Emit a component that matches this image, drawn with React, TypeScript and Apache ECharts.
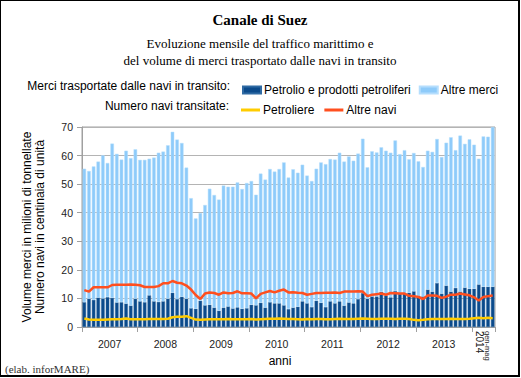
import React, { useEffect, useRef } from "react";
import * as echarts from "echarts";

const years = ["2007", "2008", "2009", "2010", "2011", "2012", "2013", "2014"];
const months = years.flatMap((y) =>
  (y === "2014" ? [1, 2, 3, 4, 5] : [1, 2, 3, 4, 5, 6, 7, 8, 9, 10, 11, 12]).map(
    (m) => `${y}-${String(m).padStart(2, "0")}`
  )
);

// Total goods (million t) = Petrolio + Altre merci
const totaleMerci = [
  55.4, 54.6, 56.2, 57.9, 60.1, 57.4, 64.2, 60.6, 58.6, 61.7, 59.1, 62.2,
  58.5, 58.5, 58.9, 59.3, 61.0, 61.4, 63.6, 68.3, 65.6, 64.4, 55.8, 45.1,
  38.0, 39.9, 42.7, 48.4, 46.2, 44.6, 49.5, 49.1, 49.1, 50.6, 48.3, 50.4,
  51.1, 46.3, 53.7, 51.6, 55.3, 54.4, 55.3, 57.6, 52.3, 55.2, 54.0, 56.8,
  53.0, 51.1, 55.4, 57.6, 57.0, 58.8, 58.6, 61.0, 57.9, 59.7, 58.2, 60.7,
  65.9, 55.9, 61.5, 61.1, 62.9, 61.7, 61.0, 65.3, 60.5, 61.9, 58.7, 60.9,
  58.0, 56.0, 61.7, 61.3, 65.8, 59.5, 64.5, 66.4, 61.9, 67.0, 64.1, 65.7,
  63.8, 58.9, 66.7, 66.6, 70.0,
];

const petrolio = [
  8.7, 9.9, 9.5, 10.3, 10.0, 10.5, 10.2, 8.6, 8.7, 8.2, 7.5, 9.9,
  9.0, 8.7, 11.1, 9.0, 8.8, 9.0, 9.9, 12.0, 9.8, 10.6, 9.9, 6.6,
  6.4, 9.2, 7.6, 7.8, 6.8, 5.7, 6.8, 7.2, 6.5, 6.9, 6.4, 6.6,
  7.8, 7.6, 8.5, 6.8, 8.7, 8.3, 8.3, 7.6, 6.3, 6.8, 7.1, 9.0,
  8.3, 7.0, 9.2, 8.5, 7.0, 9.0, 8.3, 9.0, 7.5, 8.6, 8.3, 9.8,
  11.9, 9.9, 10.7, 10.7, 12.3, 11.0, 10.4, 12.6, 11.6, 11.8, 12.0, 12.5,
  11.0, 10.7, 13.1, 12.4, 15.4, 11.7, 14.5, 12.4, 13.7, 12.4, 13.8, 13.4,
  13.4, 14.9, 14.1, 14.1, 14.1,
];

const petroliere = [
  3.0, 2.6, 2.5, 2.5, 2.5, 2.6, 2.7, 2.7, 2.8, 3.0, 2.7, 2.7,
  2.7, 2.7, 2.8, 2.8, 2.8, 2.8, 2.9, 3.4, 3.6, 3.6, 3.8, 3.2,
  2.6, 2.5, 2.6, 2.7, 2.7, 2.7, 2.7, 2.8, 2.7, 2.7, 2.7, 2.7,
  2.8, 2.6, 2.7, 2.8, 2.9, 2.9, 3.0, 2.9, 2.8, 2.8, 2.7, 2.6,
  2.8, 2.7, 2.8, 2.8, 2.7, 2.7, 2.8, 2.9, 2.8, 2.8, 2.8, 2.9,
  3.0, 2.9, 2.8, 2.8, 2.9, 2.9, 2.9, 2.8, 2.9, 2.9, 2.8, 2.5,
  2.4, 2.5, 2.7, 2.8, 2.8, 2.8, 2.8, 2.9, 2.8, 2.8, 2.8, 2.9,
  3.1, 3.2, 3.1, 3.2, 3.1,
];

const altreNavi = [
  12.9, 12.4, 13.9, 13.9, 13.9, 13.9, 14.7, 14.8, 14.8, 14.8, 14.9, 14.8,
  14.6, 14.0, 14.0, 14.0, 14.3, 15.3, 15.3, 16.1, 15.5, 15.3, 14.5, 13.1,
  11.2, 9.8, 11.7, 12.1, 11.9, 11.3, 12.1, 11.8, 11.9, 12.5, 11.8, 11.8,
  11.7, 10.0, 11.6, 12.1, 12.6, 12.1, 12.7, 13.1, 12.1, 12.2, 12.0, 11.9,
  11.3, 11.6, 11.9, 11.9, 12.0, 12.0, 12.1, 11.9, 12.4, 12.4, 12.4, 12.5,
  12.4, 10.8, 11.3, 11.5, 11.7, 11.3, 11.9, 11.8, 11.7, 11.7, 10.9, 10.8,
  10.5, 9.8, 11.0, 11.0, 10.9, 10.2, 10.6, 11.3, 11.3, 11.7, 11.4, 11.1,
  10.4, 9.3, 10.5, 10.8, 11.0,
];

const altreMerci = totaleMerci.map((t, i) => Math.round((t - petrolio[i]) * 10) / 10);

const SANS = '"Liberation Sans", Arial, sans-serif';
const SERIF = '"Liberation Serif", "Times New Roman", serif';

export default function App() {
  const ref = useRef<HTMLDivElement>(null);

  useEffect(() => {
    if (!ref.current) return;
    const chart = echarts.init(ref.current, undefined, { renderer: "svg" });
    const axisColor = "#a0a0a0";
    chart.setOption({
      animation: false,
      backgroundColor: "#ffffff",
      textStyle: { fontFamily: SANS },
      grid: {
        left: 82,
        right: 26,
        top: 127,
        bottom: 51,
        show: true,
        borderColor: axisColor,
        borderWidth: 1,
      },
      legend: [
        {
          data: ["Petrolio e prodotti petroliferi", "Altre merci"],
          left: 237,
          top: 79,
          icon: "rect",
          itemWidth: 18,
          itemHeight: 7,
          itemGap: 8,
          textStyle: { fontSize: 12, fontFamily: SANS, color: "#000", padding: [0, 0, 0, -2] },
        },
        {
          data: ["Petroliere", "Altre navi"],
          left: 236,
          top: 99,
          icon: "rect",
          itemWidth: 19,
          itemHeight: 3,
          itemGap: 10,
          textStyle: { fontSize: 12, fontFamily: SANS, color: "#000", padding: [0, 0, 0, -2] },
        },
      ],
      graphic: [
        {
          type: "text",
          x: 260,
          y: 20,
          style: {
            text: "Canale di Suez",
            align: "center",
            verticalAlign: "middle",
            fontFamily: SERIF,
            fontWeight: "bold",
            fontSize: 15,
            fill: "#000",
          },
        },
        {
          type: "text",
          x: 260,
          y: 52,
          style: {
            text: "Evoluzione mensile del traffico marittimo e\ndel volume di merci trasportato dalle navi in transito",
            align: "center",
            verticalAlign: "middle",
            fontFamily: SERIF,
            fontSize: 13,
            lineHeight: 17,
            fill: "#000",
          },
        },
        {
          type: "text",
          x: 230,
          y: 86,
          style: {
            text: "Merci trasportate dalle navi in transito:",
            align: "right",
            verticalAlign: "middle",
            fontFamily: SANS,
            fontSize: 12,
            fill: "#000",
          },
        },
        {
          type: "text",
          x: 229,
          y: 106,
          style: {
            text: "Numero navi transitate:",
            align: "right",
            verticalAlign: "middle",
            fontFamily: SANS,
            fontSize: 12,
            fill: "#000",
          },
        },
        {
          type: "text",
          x: 280,
          y: 361,
          style: {
            text: "anni",
            align: "center",
            verticalAlign: "middle",
            fontFamily: SANS,
            fontSize: 12,
            fill: "#000",
          },
        },
        {
          type: "text",
          x: 5,
          y: 369,
          style: {
            text: "(elab. inforMARE)",
            align: "left",
            verticalAlign: "middle",
            fontFamily: SERIF,
            fontSize: 11,
            fill: "#333",
          },
        },
      ],
      xAxis: [
        {
          type: "category",
          data: months,
          boundaryGap: true,
          axisLine: { show: true, lineStyle: { color: axisColor } },
          axisTick: {
            show: true,
            length: 5,
            interval: (i: number) => i % 12 === 0,
            lineStyle: { color: axisColor },
          },
          axisLabel: {
            interval: (i: number) => i % 12 === 6,
            formatter: (v: string) => v.slice(0, 4),
            fontSize: 10.5,
            fontFamily: SANS,
            color: "#222",
            margin: 11,
            padding: [0, 5, 0, 0],
          },
          splitLine: { show: false },
        },
        {
          type: "category",
          data: months,
          position: "bottom",
          boundaryGap: true,
          axisLine: { show: false },
          axisTick: { show: false },
          axisLabel: {
            interval: (i: number) => i === 86,
            formatter: () => "{a|gen-mag}\n{b|2014}",
            rotate: -90,
            margin: 4,
            rich: {
              a: { fontSize: 7.5, fontFamily: SANS, color: "#222", lineHeight: 8 },
              b: { fontSize: 10, fontFamily: SANS, color: "#222", lineHeight: 8 },
            },
          },
          splitLine: { show: false },
        },
      ],
      yAxis: {
        type: "value",
        min: 0,
        max: 70,
        interval: 10,
        axisLine: { show: true, lineStyle: { color: axisColor } },
        axisTick: { show: true, length: 5, lineStyle: { color: axisColor } },
        axisLabel: { fontSize: 10.5, fontFamily: SANS, color: "#222", margin: 9 },
        splitLine: { show: true, lineStyle: { color: "#b4b4b4", width: 1 } },
        name: "Volume merci in milioni di tonnellate\nNumero navi in centinaia di unità",
        nameLocation: "middle",
        nameRotate: 90,
        nameGap: 36,
        nameTextStyle: { fontSize: 12, fontFamily: SANS, color: "#000", lineHeight: 13 },
      },
      series: [
        {
          name: "Petrolio e prodotti petroliferi",
          type: "bar",
          stack: "merci",
          data: petrolio,
          barWidth: "76%",
          itemStyle: { color: "#0b4a8b", borderColor: "#2f6aa3", borderWidth: 0.5 },
        },
        {
          name: "Altre merci",
          type: "bar",
          stack: "merci",
          data: altreMerci,
          barWidth: "76%",
          itemStyle: { color: "#8ecbfa", borderColor: "#b5defd", borderWidth: 0.5 },
        },
        {
          name: "Petroliere",
          type: "line",
          data: petroliere,
          symbol: "none",
          z: 5,
          lineStyle: { color: "#ffcc00", width: 2.5 },
          itemStyle: { color: "#ffcc00" },
        },
        {
          name: "Altre navi",
          type: "line",
          data: altreNavi,
          symbol: "none",
          z: 5,
          lineStyle: { color: "#ff4f1f", width: 2.5 },
          itemStyle: { color: "#ff4f1f" },
        },
      ],
    });
    return () => chart.dispose();
  }, []);

  return (
    <div style={{ position: "absolute", left: 0, top: 0, width: 521, height: 378, background: "#fff" }}>
      <div ref={ref} style={{ position: "absolute", left: 0, top: 0, width: 521, height: 378 }} />
      <div
        style={{
          position: "absolute",
          left: 0,
          top: 0,
          width: 520,
          height: 377,
          boxSizing: "border-box",
          borderTop: "1px solid #000",
          borderLeft: "1px solid #000",
          borderRight: "2px solid #000",
          borderBottom: "2px solid #000",
          pointerEvents: "none",
        }}
      />
    </div>
  );
}
